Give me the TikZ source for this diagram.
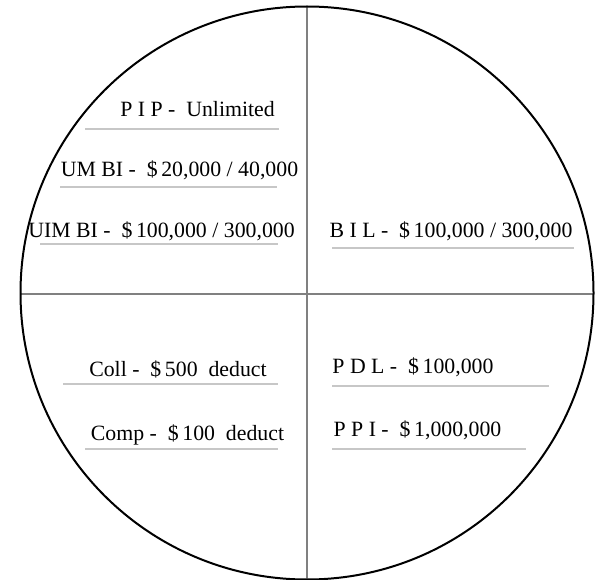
\documentclass[tikz,border=0pt]{standalone}
\usepackage{fontspec}
\setmainfont{Liberation Serif}
\begin{document}
\begin{tikzpicture}[x=1pt,y=-1pt,
  lbl/.style={inner sep=0pt,anchor=base,font=\fontsize{21.8}{26}\selectfont,text=black},
  uline/.style={draw=black!22,line width=1.4pt},
  divider/.style={draw=black!50,line width=1.8pt},
  rim/.style={draw=black,line width=2pt}]
\useasboundingbox (0,0) rectangle (602,580);
\fill[white] (0,0) rectangle (602,580);
\coordinate (c) at (307,293);
\coordinate (top) at (307,7);
\coordinate (bot) at (307,579);
\coordinate (lft) at (20.5,294);
\coordinate (rgt) at (593.5,294);
\draw[divider] (top) -- (bot);
\draw[divider] (lft) -- (rgt);
\draw[rim] (c) circle (286.5pt);
% underlines
\draw[uline] (85,129) -- (279,129);
\draw[uline] (60,187) -- (277,187);
\draw[uline] (40,244) -- (278,244);
\draw[uline] (332,248) -- (574,248);
\draw[uline] (63,384) -- (278,384);
\draw[uline] (85,449) -- (278,449);
\draw[uline] (332,386) -- (549,386);
\draw[uline] (332,449) -- (526,449);
% labels
\node[lbl] (pip) at (197.5,117) {P I P -~ Unlimited};
\node[lbl] (umbi) at (179.5,177) {UM BI -~ \$\,20,000 / 40,000};
\node[lbl] (uimbi) at (161.5,237) {UIM BI -~ \$\,100,000 / 300,000};
\node[lbl] (bil) at (451,237) {B I L -~ \$\,100,000 / 300,000};
\node[lbl] (coll) at (178,376) {Coll -~ \$\,500~ deduct};
\node[lbl] (comp) at (187.5,440) {Comp -~ \$\,100~ deduct};
\node[lbl] (pdl) at (413,373) {P D L -~ \$\,100,000};
\node[lbl] (ppi) at (417.5,436) {P P I -~ \$\,1,000,000};
\end{tikzpicture}
\end{document}
